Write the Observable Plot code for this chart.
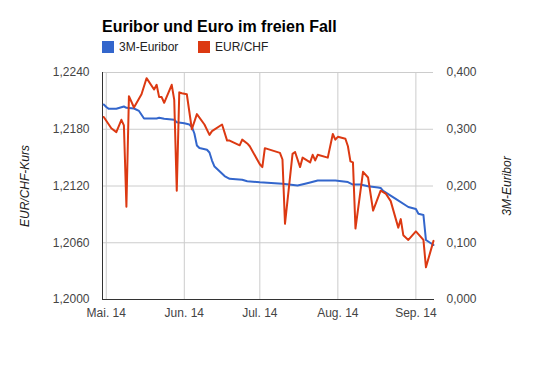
<!DOCTYPE html>
<html>
<head>
<meta charset="utf-8">
<script src="https://cdn.jsdelivr.net/npm/d3@7"></script>
<script src="https://cdn.jsdelivr.net/npm/@observablehq/plot@0.6"></script>
<style>
  html, body { margin: 0; padding: 0; background: #fff; }
  #wrap { position: relative; width: 535px; height: 371px; font-family: Arial, "Liberation Sans", sans-serif; }
  #chart { position: absolute; left: 0; top: 0; }
  .title { position: absolute; left: 102px; top: 16.5px; font-size: 16px; line-height: 20px; font-weight: bold; color: #000; white-space: nowrap; }
  .item { position: absolute; top: 40px; display: flex; align-items: center; font-size: 12px; line-height: 14px; color: #222; white-space: nowrap; }
  .sw { width: 12px; height: 12px; margin-right: 5px; }
</style>
</head>
<body>
<div id="wrap">
  <div id="chart"></div>
  <div class="title" id="title"></div>
  <div class="item" id="leg0" style="left:102px"></div>
  <div class="item" id="leg1" style="left:198px"></div>
</div>
<script>
const titleText = "Euribor und Euro im freien Fall";
const seriesNames = ["3M-Euribor", "EUR/CHF"];
const seriesColors = ["#3366cc", "#dc3912"];
const leftAxisTitle = "EUR/CHF-Kurs";
const rightAxisTitle = "3M-Euribor";

const monthTicks = ["2014-05-01", "2014-06-01", "2014-07-01", "2014-08-01", "2014-09-01"];
const monthLabels = ["Mai. 14", "Jun. 14", "Jul. 14", "Aug. 14", "Sep. 14"];
const chfTicks = [1.2, 1.206, 1.212, 1.218, 1.224];
const chfTickLabels = ["1,2000", "1,2060", "1,2120", "1,2180", "1,2240"];
const euriborTicks = [0, 0.1, 0.2, 0.3, 0.4];
const euriborTickLabels = ["0,000", "0,100", "0,200", "0,300", "0,400"];

const chfDates = [
  "2014-04-30","2014-05-03","2014-05-05","2014-05-07","2014-05-08","2014-05-09","2014-05-10","2014-05-12",
  "2014-05-15","2014-05-17","2014-05-20","2014-05-21","2014-05-22","2014-05-23","2014-05-24","2014-05-27",
  "2014-05-28","2014-05-29","2014-05-30","2014-05-31","2014-06-02","2014-06-04","2014-06-06","2014-06-09",
  "2014-06-11","2014-06-12","2014-06-16","2014-06-18","2014-06-19","2014-06-23","2014-06-24","2014-06-26",
  "2014-06-27","2014-07-01","2014-07-02","2014-07-03","2014-07-09","2014-07-10","2014-07-11","2014-07-14",
  "2014-07-15","2014-07-17","2014-07-18","2014-07-21","2014-07-22","2014-07-23","2014-07-24","2014-07-28",
  "2014-07-30","2014-07-31","2014-08-01","2014-08-04","2014-08-05","2014-08-06","2014-08-07","2014-08-08",
  "2014-08-11","2014-08-13","2014-08-15","2014-08-18","2014-08-20","2014-08-22","2014-08-25","2014-08-26",
  "2014-08-27","2014-08-29","2014-09-01","2014-09-04","2014-09-05","2014-09-08"
];
const chfValues = [
  1.2193, 1.2181, 1.2177, 1.2190, 1.2184, 1.2098, 1.2215, 1.2203,
  1.2217, 1.2234, 1.2222, 1.2227, 1.2214, 1.2214, 1.2208, 1.2227,
  1.2211, 1.2115, 1.2219, 1.2218, 1.2217, 1.2180, 1.2196, 1.2185,
  1.2174, 1.2178, 1.2185, 1.2168, 1.2168, 1.2163, 1.2169, 1.2165,
  1.2162, 1.2143, 1.2140, 1.2160, 1.2155, 1.2148, 1.2080, 1.2154,
  1.2156, 1.2140, 1.2150, 1.2145, 1.2153, 1.2147, 1.2153, 1.2150,
  1.2175, 1.2169, 1.2172, 1.2170, 1.2162, 1.2146, 1.2145, 1.2075,
  1.2135, 1.2129, 1.2094, 1.2115, 1.2112, 1.2104, 1.2076, 1.2085,
  1.2068, 1.2063, 1.2072, 1.2063, 1.2034, 1.2062
];

const euriborDates = [
  "2014-04-30","2014-05-01","2014-05-02","2014-05-05","2014-05-08","2014-05-09","2014-05-12","2014-05-14",
  "2014-05-16","2014-05-21","2014-05-22","2014-05-24","2014-05-28","2014-05-29","2014-06-01","2014-06-03",
  "2014-06-04","2014-06-05","2014-06-06","2014-06-07","2014-06-10","2014-06-11","2014-06-12","2014-06-13",
  "2014-06-15","2014-06-17","2014-06-19","2014-06-24","2014-06-26","2014-07-01","2014-07-10","2014-07-16",
  "2014-07-19","2014-07-21","2014-07-24","2014-07-31","2014-08-05","2014-08-07","2014-08-10","2014-08-13",
  "2014-08-17","2014-08-18","2014-08-19","2014-08-24","2014-08-29","2014-09-01","2014-09-02","2014-09-04",
  "2014-09-05","2014-09-08"
];
const euriborValues = [
  0.3436, 0.3392, 0.3360, 0.3360, 0.3401, 0.3378, 0.3366, 0.3322,
  0.3190, 0.3190, 0.3202, 0.3184, 0.3167, 0.3124, 0.3107, 0.3084,
  0.3040, 0.2925, 0.2714, 0.2669, 0.2638, 0.2590, 0.2449, 0.2343,
  0.2261, 0.2176, 0.2127, 0.2109, 0.2085, 0.2065, 0.2039, 0.2009,
  0.2039, 0.2061, 0.2097, 0.2097, 0.2070, 0.2026, 0.2026, 0.1996,
  0.1975, 0.1966, 0.1915, 0.1774, 0.1630, 0.1595, 0.1510, 0.1489,
  0.1048, 0.0960
];

// map the right (Euribor) scale onto the left (EUR/CHF) scale: both axes share the same tick positions
const rightToLeft = d3.scaleLinear()
  .domain([euriborTicks[0], euriborTicks[euriborTicks.length - 1]])
  .range([chfTicks[0], chfTicks[chfTicks.length - 1]]);

const chf = chfDates.map((d, i) => ({date: new Date(d), value: chfValues[i]}));
const euribor = euriborDates.map((d, i) => ({date: new Date(d), value: euriborValues[i]}));
const monthDates = monthTicks.map(d => new Date(d));

const fmtMonth = d => monthLabels[monthDates.findIndex(m => +m === +d)];
const fmtLeft = d => chfTickLabels[chfTicks.indexOf(d)];
const fmtRight = d => euriborTickLabels[chfTicks.indexOf(d)];

const chart = Plot.plot({
  width: 535,
  height: 371,
  marginLeft: 102,
  marginRight: 102,
  marginTop: 72,
  marginBottom: 72,
  style: {fontFamily: 'Arial, "Liberation Sans", sans-serif', fontSize: "12px", color: "#444", background: "transparent"},
  x: {type: "utc", domain: [new Date("2014-04-29T12:00:00Z"), new Date("2014-09-08T00:00:00Z")]},
  y: {domain: [chfTicks[0], chfTicks[chfTicks.length - 1]]},
  marks: [
    Plot.ruleY(chfTicks, {stroke: "#cccccc", strokeOpacity: 1}),
    Plot.ruleX(monthDates, {stroke: "#cccccc", strokeOpacity: 1}),
    Plot.frame({anchor: "left", stroke: "#333"}),
    Plot.frame({anchor: "bottom", stroke: "#333"}),
    Plot.axisY({anchor: "left", ticks: chfTicks, tickFormat: fmtLeft, tickSize: 0, tickPadding: 13, label: null}),
    Plot.axisY({anchor: "right", ticks: chfTicks, tickFormat: fmtRight, tickSize: 0, tickPadding: 13, label: null}),
    Plot.axisX({ticks: monthDates, tickFormat: fmtMonth, tickSize: 0, tickPadding: 9, label: null}),
    Plot.text([leftAxisTitle], {frameAnchor: "left", dx: -77, rotate: -90, textAnchor: "middle", fontStyle: "italic", fill: "#222", fontSize: 12}),
    Plot.text([rightAxisTitle], {frameAnchor: "right", dx: 74, rotate: -90, textAnchor: "middle", fontStyle: "italic", fill: "#222", fontSize: 12}),
    Plot.line(euribor, {x: "date", y: d => rightToLeft(d.value), stroke: seriesColors[0], strokeWidth: 2}),
    Plot.line(chf, {x: "date", y: "value", stroke: seriesColors[1], strokeWidth: 2})
  ]
});
document.getElementById("chart").appendChild(chart);

document.getElementById("title").textContent = titleText;
seriesNames.forEach((name, i) => {
  const el = document.getElementById("leg" + i);
  const sw = document.createElement("span");
  sw.className = "sw";
  sw.style.background = seriesColors[i];
  el.appendChild(sw);
  el.appendChild(document.createTextNode(name));
});
</script>
</body>
</html>
